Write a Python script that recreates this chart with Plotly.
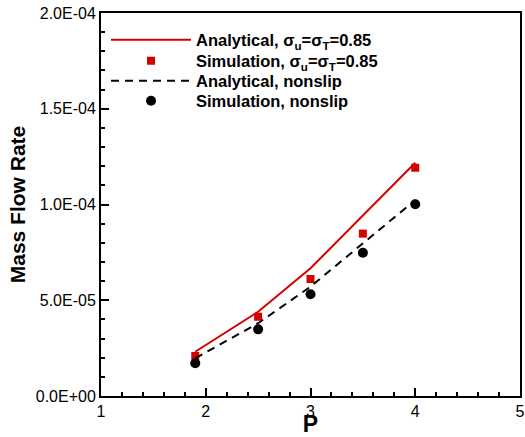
import plotly.graph_objects as go

# Data
p_line = [1.9, 2.5, 3.0, 3.5, 4.0]
analytical_slip = [2.31e-5, 4.40e-5, 6.67e-5, 9.45e-5, 1.218e-4]
analytical_nonslip = [1.97e-5, 3.80e-5, 5.71e-5, 7.97e-5, 1.023e-4]

p_sim = [1.9, 2.5, 3.0, 3.5, 4.0]
sim_slip = [2.09e-5, 4.14e-5, 6.11e-5, 8.48e-5, 1.192e-4]
sim_nonslip = [1.71e-5, 3.48e-5, 5.31e-5, 7.48e-5, 1.001e-4]

x_ticks = [1, 2, 3, 4, 5]
x_ticktext = ["1", "2", "3", "4", "5"]
y_ticks = [0, 5e-5, 1e-4, 1.5e-4, 2e-4]
y_ticktext = ["0.0E+00", "5.0E-05", "1.0E-04", "1.5E-04", "2.0E-04"]

series_names = [
    "Analytical, σ<sub>u</sub>=σ<sub>T</sub>=0.85",
    "Simulation, σ<sub>u</sub>=σ<sub>T</sub>=0.85",
    "Analytical, nonslip",
    "Simulation, nonslip",
]

FONT = "Liberation Sans, Arial, Helvetica, sans-serif"

fig = go.Figure()
fig.add_trace(go.Scatter(
    x=p_line, y=analytical_slip, mode="lines", name=series_names[0],
    line=dict(color="#d40000", width=2), legend="legend",
))
fig.add_trace(go.Scatter(
    x=p_sim, y=sim_slip, mode="markers", name=series_names[1],
    marker=dict(color="#d40000", symbol="square", size=8), legend="legend2",
))
fig.add_trace(go.Scatter(
    x=p_line, y=analytical_nonslip, mode="lines", name=series_names[2],
    line=dict(color="black", width=2, dash="8px,6px"), legend="legend3",
))
fig.add_trace(go.Scatter(
    x=p_sim, y=sim_nonslip, mode="markers", name=series_names[3],
    marker=dict(color="black", symbol="circle", size=10), legend="legend4",
))

axis_common = dict(
    showgrid=False, zeroline=False,
    showline=True, linecolor="black", linewidth=2, mirror=True,
    ticks="inside", ticklen=8, tickwidth=1.5, tickcolor="black",
    tickfont=dict(family=FONT, size=16, color="black"),
)

fig.update_xaxes(
    range=[1, 5], tickvals=x_ticks, ticktext=x_ticktext,
    minor=dict(dtick=0.2, ticks="inside", ticklen=4, tickwidth=1.5, tickcolor="black", showgrid=False),
    title=dict(text="P", font=dict(family=FONT, size=23, color="black", weight="bold"), standoff=0),
    **axis_common,
)
fig.update_yaxes(
    range=[0, 2e-4], tickvals=y_ticks, ticktext=y_ticktext,
    minor=dict(dtick=1e-5, ticks="inside", ticklen=4, tickwidth=1.5, tickcolor="black", showgrid=False),
    title=dict(text="Mass Flow Rate", font=dict(family=FONT, size=21, color="black", weight="bold"), standoff=4),
    **axis_common,
)

def legend_at(yc):
    return dict(
        x=0.012, y=yc, xanchor="left", yanchor="middle",
        bgcolor="rgba(0,0,0,0)", borderwidth=0,
        font=dict(family=FONT, size=16.5, color="black", weight="bold"),
        itemwidth=80, tracegroupgap=0,
    )

fig.update_layout(
    width=525, height=437,
    margin=dict(l=101, r=5, t=13, b=41, autoexpand=False),
    plot_bgcolor="white", paper_bgcolor="white",
    showlegend=True,
    legend=legend_at(0.9295),
    legend2=legend_at(0.8747),
    legend3=legend_at(0.8225),
    legend4=legend_at(0.7702),
)

fig.write_html(
    "out.html",
    config={"displayModeBar": False},
    post_script="document.body.style.margin='0';document.body.style.padding='0';",
)
